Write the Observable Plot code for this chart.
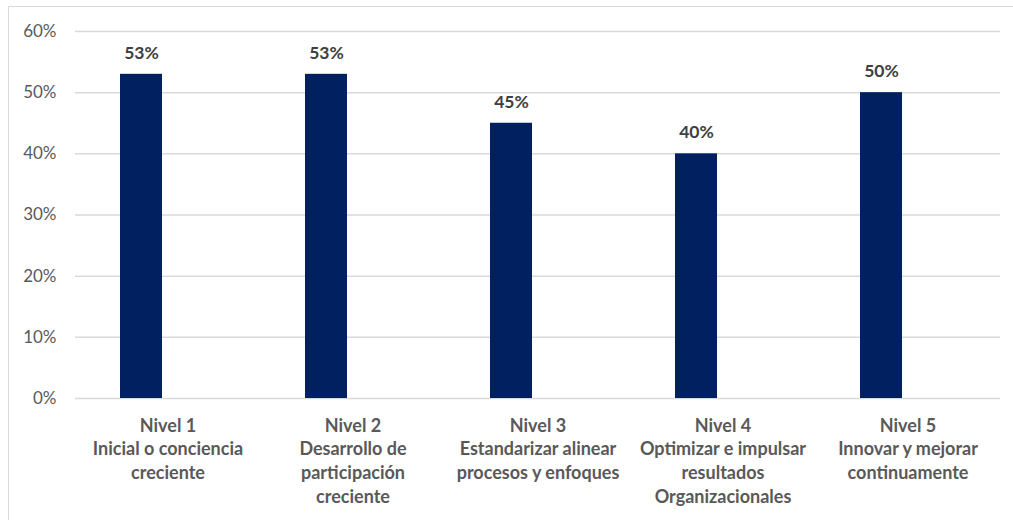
<!DOCTYPE html>
<html>
<head>
<meta charset="utf-8">
<script src="https://cdn.jsdelivr.net/npm/d3@7"></script>
<script src="https://cdn.jsdelivr.net/npm/@observablehq/plot@0.6"></script>
<style>
  html, body { margin: 0; padding: 0; background: #fff; }
  #wrap { position: relative; width: 1013px; height: 520px; overflow: hidden; }
  #frame { position: absolute; left: 8px; top: 6px; right: -2px; bottom: -2px;
           border-top: 1.5px solid #d9d9d9; border-left: 1.5px solid #d9d9d9; }
  #chart { position: absolute; left: 0; top: 0; }
</style>
</head>
<body>
<div id="wrap"><div id="frame"></div><div id="chart"></div></div>
<script>
const levels = ["Nivel 1", "Nivel 2", "Nivel 3", "Nivel 4", "Nivel 5"];
const descriptions = [
  "Inicial o conciencia\ncreciente",
  "Desarrollo de\nparticipación\ncreciente",
  "Estandarizar alinear\nprocesos y enfoques",
  "Optimizar e impulsar\nresultados\nOrganizacionales",
  "Innovar y mejorar\ncontinuamente"
];
const values = [0.53, 0.53, 0.45, 0.40, 0.50];
const yTicks = [0, 0.1, 0.2, 0.3, 0.4, 0.5, 0.6];

const data = levels.map((l, i) => ({level: l, label: l + "\n" + descriptions[i], value: values[i]}));

const font = "Lato, 'Open Sans', sans-serif";
const chart = Plot.plot({
  width: 1013,
  height: 520,
  marginLeft: 75,
  marginRight: 13,
  marginTop: 31,
  marginBottom: 122,
  style: {fontFamily: font, background: "transparent", overflow: "visible"},
  x: {domain: levels, padding: 0, axis: null},
  y: {domain: [0, 0.6], axis: null},
  marks: [
    Plot.gridY(yTicks, {stroke: "#d9d9d9", strokeOpacity: 1, strokeWidth: 1.5}),
    Plot.text(yTicks, {
      y: d => d, frameAnchor: "left", dx: -19, textAnchor: "end",
      text: d => Math.round(d * 100) + "%",
      fill: "#595959", fontSize: 17
    }),
    Plot.barY(data, {x: "level", y: "value", fill: "#002060", insetLeft: 45, insetRight: 98}),
    Plot.text(data, {
      x: "level", y: "value", dx: -26.5, dy: -21,
      text: d => Math.round(d.value * 100) + "%",
      fill: "#404040", fontWeight: "bold", fontSize: 17.5
    }),
    Plot.text(data, {
      x: "level", y: () => 0, dy: 16, lineAnchor: "top", lineHeight: 1.33,
      text: "label", fill: "#595959", fontWeight: "bold", fontSize: 18
    })
  ]
});
document.getElementById("chart").appendChild(chart);
</script>
</body>
</html>
